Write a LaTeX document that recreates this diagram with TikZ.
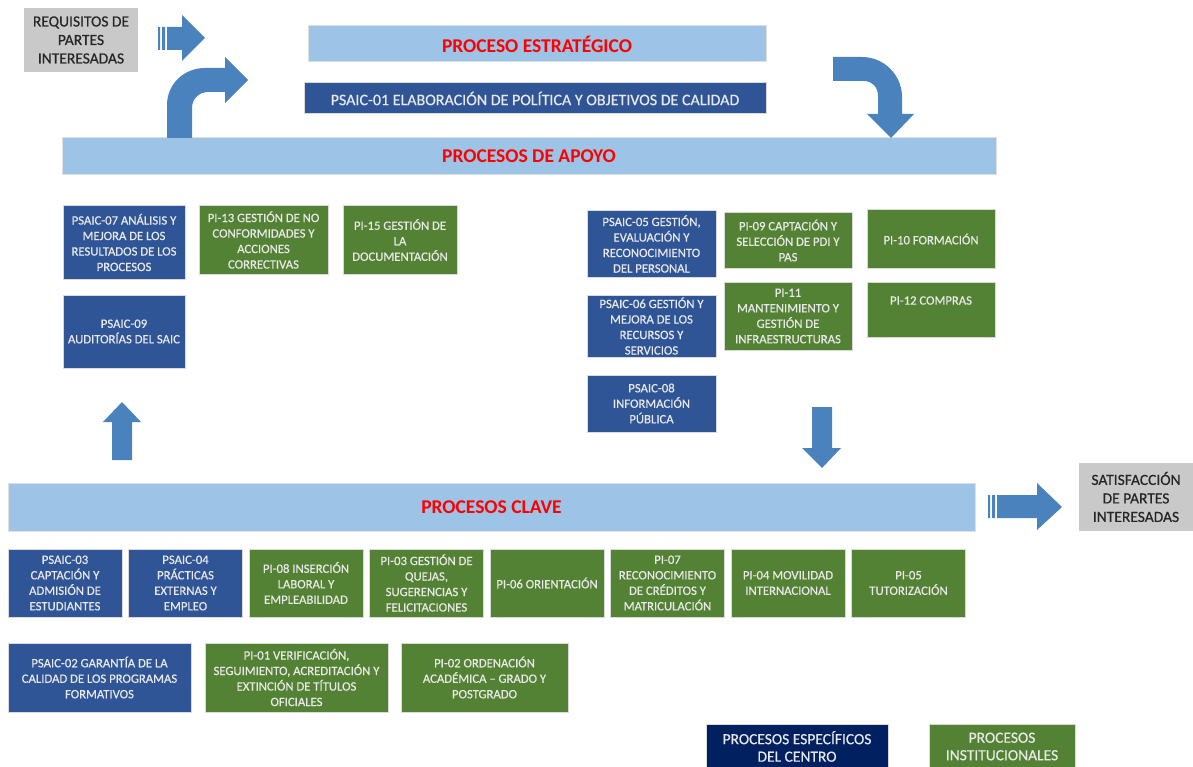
\documentclass[tikz,border=0pt]{standalone}
\usepackage{fontspec}
\setmainfont{Carlito}
\newfontfamily\boxfont{Carlito}[FakeBold=0.5]
\usepackage{xcolor}
\usepackage{tikz}
\usetikzlibrary{positioning}
\definecolor{psblue}{RGB}{47,85,151}
\definecolor{pigreen}{RGB}{84,130,53}
\definecolor{barblue}{RGB}{157,195,230}
\definecolor{arrblue}{RGB}{74,130,189}
\definecolor{navyblue}{RGB}{0,32,96}
\definecolor{boxgray}{RGB}{201,201,201}
\definecolor{txtlight}{RGB}{232,232,232}
\tikzset{
    bar/.style={rectangle, draw=gray!25, line width=1pt, fill=barblue, text=red, font=\fontsize{19.5}{21}\selectfont\bfseries},
    spec/.style={rectangle, draw=gray!30, line width=1pt, fill=psblue, text=txtlight, align=center, inner sep=1pt, font=\boxfont\fontsize{12.7}{15.5}\selectfont},
    inst/.style={spec, fill=pigreen},
    keybox/.style={minimum width=114, minimum height=68},
    party/.style={rectangle, fill=boxgray, text=black!85, align=center, inner sep=1pt, font=\boxfont\fontsize{15.5}{18.5}\selectfont},
    legendbox/.style={font=\boxfont\fontsize{15.5}{17.5}\selectfont, minimum height=45},
    blockarrow/.style={fill=arrblue, draw=none},
}

\begin{document}
\begin{tikzpicture}[x=1pt, y=-1pt]
    \useasboundingbox (0,0) rectangle (1193,767);

    % estrategico
    \node[party, minimum width=114, minimum height=64] (req) at (81,40) {REQUISITOS DE\\PARTES\\INTERESADAS};
    \node[bar, minimum width=458, minimum height=36] (strat) at (537,44) {PROCESO ESTRATÉGICO};
    \node[spec, minimum width=462, minimum height=31, font=\boxfont\fontsize{16}{18}\selectfont] (psaic01) at (535,98.5) {PSAIC-01 ELABORACIÓN DE POLÍTICA Y OBJETIVOS DE CALIDAD};

    % apoyo
    \node[bar, minimum width=934, minimum height=37] (apoyo) at (529,156.5) {PROCESOS DE APOYO};
    \node[spec, minimum width=122, minimum height=73] (psaic07) at (124,242.5) {PSAIC-07 ANÁLISIS Y\\MEJORA DE LOS\\RESULTADOS DE LOS\\PROCESOS};
    \node[inst, minimum width=129, minimum height=68] (pi13) at (263.5,240) {PI-13 GESTIÓN DE NO\\CONFORMIDADES Y\\ACCIONES\\CORRECTIVAS};
    \node[inst, minimum width=114, minimum height=68] (pi15) at (400,240) {PI-15 GESTIÓN DE\\LA\\DOCUMENTACIÓN};
    \node[spec, minimum width=122, minimum height=73] (psaic09) at (124,331.5) {PSAIC-09\\AUDITORÍAS DEL SAIC};

    \node[spec, minimum width=129, minimum height=66] (psaic05) at (651.5,244) {PSAIC-05 GESTIÓN,\\EVALUACIÓN Y\\RECONOCIMIENTO\\DEL PERSONAL};
    \node[inst, minimum width=128, minimum height=55] (pi09) at (788,240.5) {PI-09 CAPTACIÓN Y\\SELECCIÓN DE PDI Y\\PAS};
    \node[inst, minimum width=128, minimum height=58] (pi10) at (931,239) {PI-10 FORMACIÓN};
    \node[spec, minimum width=129, minimum height=62] (psaic06) at (651.5,326) {PSAIC-06 GESTIÓN Y\\MEJORA DE LOS\\RECURSOS Y\\SERVICIOS};
    \node[inst, minimum width=128, minimum height=68] (pi11) at (788,316) {PI-11\\MANTENIMIENTO Y\\GESTIÓN DE\\INFRAESTRUCTURAS};
    \node[inst, minimum width=128, minimum height=55, text depth=18pt] (pi12) at (931,309.5) {PI-12 COMPRAS};
    \node[spec, minimum width=129, minimum height=57] (psaic08) at (651.5,403.5) {PSAIC-08\\INFORMACIÓN\\PÚBLICA};

    % clave
    \node[bar, minimum width=967, minimum height=48] (clave) at (491.5,507) {PROCESOS CLAVE};
    \node[party, minimum width=114, minimum height=68] (satis) at (1136,497) {SATISFACCIÓN\\DE PARTES\\INTERESADAS};

    \node[spec, keybox] (psaic03) at (65,583) {PSAIC-03\\CAPTACIÓN Y\\ADMISIÓN DE\\ESTUDIANTES};
    \node[spec, keybox, right=5.5pt of psaic03] (psaic04) {PSAIC-04\\PRÁCTICAS\\EXTERNAS Y\\EMPLEO};
    \node[inst, keybox, right=5.5pt of psaic04] (pi08) {PI-08 INSERCIÓN\\LABORAL Y\\EMPLEABILIDAD};
    \node[inst, keybox, right=5.5pt of pi08] (pi03) {PI-03 GESTIÓN DE\\QUEJAS,\\SUGERENCIAS Y\\FELICITACIONES};
    \node[inst, keybox, right=5.5pt of pi03] (pi06) {PI-06 ORIENTACIÓN};
    \node[inst, keybox, right=5.5pt of pi06] (pi07) {PI-07\\RECONOCIMIENTO\\DE CRÉDITOS Y\\MATRICULACIÓN};
    \node[inst, keybox, right=5.5pt of pi07] (pi04) {PI-04 MOVILIDAD\\INTERNACIONAL};
    \node[inst, keybox, right=5.5pt of pi04] (pi05) {PI-05\\TUTORIZACIÓN};

    \node[spec, minimum width=183, minimum height=69] (psaic02) at (99.5,677.5) {PSAIC-02 GARANTÍA DE LA\\CALIDAD DE LOS PROGRAMAS\\FORMATIVOS};
    \node[inst, minimum width=183, minimum height=69] (pi01) at (296.5,677.5) {PI-01 VERIFICACIÓN,\\SEGUIMIENTO, ACREDITACIÓN Y\\EXTINCIÓN DE TÍTULOS\\OFICIALES};
    \node[inst, minimum width=167, minimum height=69] (pi02) at (484.5,677.5) {PI-02 ORDENACIÓN\\ACADÉMICA – GRADO Y\\POSTGRADO};

    % leyenda
    \node[spec, legendbox, fill=navyblue, minimum width=182] (legcentro) at (797,746.5) {PROCESOS ESPECÍFICOS\\DEL CENTRO};
    \node[inst, legendbox, minimum width=146] (leginst) at (1002,746.5) {PROCESOS\\INSTITUCIONALES};

    % flechas
    \fill[blockarrow] (158,27) rectangle (160,50) (162,27) rectangle (165,50);
    \fill[blockarrow] (167,27) -- (182,27) -- (182,15) -- (205,38) -- (182,61) -- (182,50) -- (167,50) -- cycle;
    \fill[blockarrow] (167,138) -- (167,105) .. controls (167,84) and (184,68) .. (205,68) -- (225,68) -- (225,57) -- (248,80)
        -- (225,103) -- (225,92) -- (208,92) .. controls (199,92) and (192,99) .. (192,108) -- (192,138) -- cycle;
    \fill[blockarrow] (833,57) -- (862,57) .. controls (884,57) and (902,75) .. (902,97) -- (902,114) -- (914,114) -- (891,138)
        -- (867,114) -- (878,114) -- (878,96) .. controls (878,87) and (872,81) .. (864,81) -- (833,81) -- cycle;
    \fill[blockarrow] (112,460) -- (112,422) -- (103,422) -- (122,402) -- (141,422) -- (132,422) -- (132,460) -- cycle;
    \fill[blockarrow] (812,407) -- (812,448) -- (802,448) -- (822,468) -- (841,448) -- (832,448) -- (832,407) -- cycle;
    \fill[blockarrow] (988,495) rectangle (990,518) (992,495) rectangle (995,518);
    \fill[blockarrow] (997,495) -- (1037,495) -- (1037,483) -- (1062,507) -- (1037,530) -- (1037,518) -- (997,518) -- cycle;
\end{tikzpicture}
\end{document}
